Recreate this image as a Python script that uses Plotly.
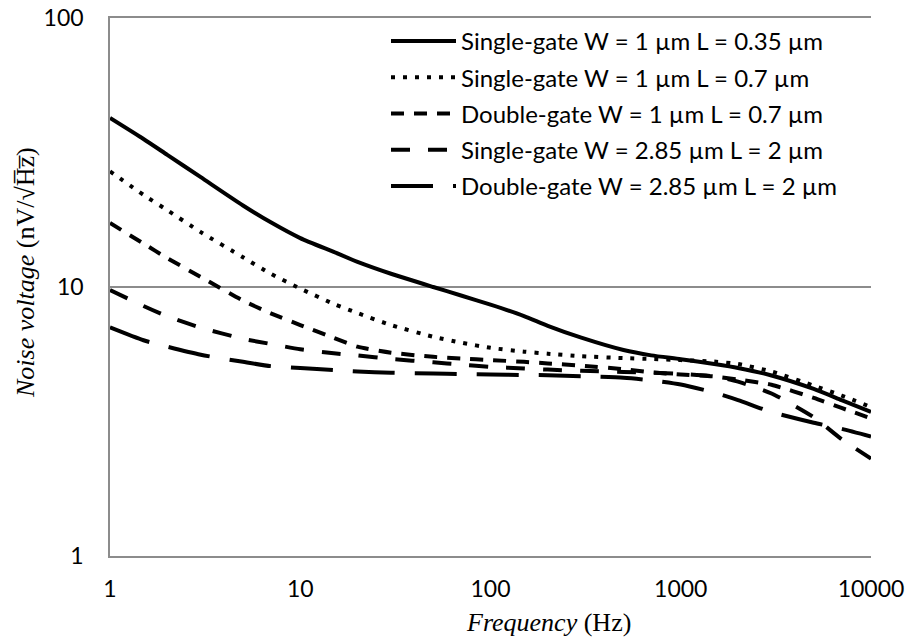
import plotly.graph_objects as go

freq = [1, 1.5, 2, 3, 5, 7, 10, 15, 20, 30, 50, 70, 100, 150, 200, 300, 500, 700,
        1000, 1500, 2000, 3000, 5000, 7000, 10000]

sg_w1_l035 = [42.5, 35.5, 31.0, 25.6, 20.1, 17.4, 15.2, 13.5, 12.4, 11.2, 10.0, 9.3, 8.6,
              7.8, 7.17, 6.48, 5.83, 5.57, 5.39, 5.17, 5.0, 4.69, 4.18, 3.8, 3.43]
sg_w1_l07 = [26.9, 22.0, 19.3, 16.0, 12.9, 11.2, 9.87, 8.65, 8.0, 7.22, 6.53, 6.21, 5.94,
             5.75, 5.65, 5.53, 5.44, 5.4, 5.35, 5.28, 5.17, 4.85, 4.3, 3.95, 3.58]
dg_w1_l07 = [17.3, 14.5, 12.8, 10.9, 8.9, 7.98, 7.22, 6.47, 6.0, 5.7, 5.5, 5.42, 5.35,
             5.27, 5.2, 5.1, 4.95, 4.82, 4.73, 4.65, 4.53, 4.33, 3.87, 3.55, 3.25]
sg_w285_l2 = [9.75, 8.5, 7.78, 7.06, 6.42, 6.14, 5.87, 5.67, 5.57, 5.4, 5.25, 5.15, 5.05,
              4.98, 4.93, 4.88, 4.83, 4.8, 4.75, 4.65, 4.45, 4.02, 3.28, 2.72, 2.3]
dg_w285_l2 = [7.08, 6.34, 6.0, 5.6, 5.27, 5.08, 5.0, 4.91, 4.85, 4.8, 4.77, 4.75, 4.73,
              4.71, 4.7, 4.66, 4.6, 4.5, 4.34, 4.05, 3.8, 3.43, 3.13, 2.97, 2.78]

names = ["Single-gate W = 1 µm L = 0.35 µm",
         "Single-gate W = 1 µm L = 0.7 µm",
         "Double-gate W = 1 µm L = 0.7 µm",
         "Single-gate W = 2.85 µm L = 2 µm",
         "Double-gate W = 2.85 µm L = 2 µm"]
series = [sg_w1_l035, sg_w1_l07, dg_w1_l07, sg_w285_l2, dg_w285_l2]
dashes = ["solid", "4px,8px", "13px,10px", "19px,18px", "42px,20px"]

x_ticks = [1, 10, 100, 1000, 10000]
x_ticktext = ["1", "10", "100", "1000", "10000"]
y_ticks = [1, 10, 100]
y_ticktext = ["1", "10", "100"]

fig = go.Figure()
for i, (nm, ys, ds) in enumerate(zip(names, series, dashes)):
    fig.add_trace(go.Scatter(
        x=freq, y=ys, name=nm, mode="lines", legendgroup=f"g{i}",
        line=dict(color="black", width=4, dash=ds, shape="spline", smoothing=0.6),
    ))

W, H = 907, 639
L, R, T, B = 110, 36, 18, 83
pw, ph = W - L - R, H - T - B

tickfont = dict(family="Lato, Carlito, sans-serif", size=23, color="black")
fig.update_layout(
    width=W, height=H,
    margin=dict(l=L, r=R, t=T, b=B, autoexpand=False),
    paper_bgcolor="white", plot_bgcolor="white",
    showlegend=True,
    legend=dict(
        x=(386 - L) / pw, y=1 - (19 - T) / ph, xanchor="left", yanchor="top",
        font=dict(family="Lato, Carlito, sans-serif", size=24, color="black"),
        bgcolor="rgba(0,0,0,0)", traceorder="grouped", tracegroupgap=2,
        itemwidth=65,
    ),
    xaxis=dict(
        type="log", range=[0, 4], tickvals=x_ticks, ticktext=x_ticktext,
        showgrid=False, showline=True, mirror=True, linecolor="#8c8c8c", linewidth=1.5,
        ticks="outside", ticklen=12, tickcolor="rgba(0,0,0,0)",
        tickfont=tickfont, zeroline=False, automargin=False,
    ),
    yaxis=dict(
        type="log", range=[0, 2], tickvals=y_ticks, ticktext=y_ticktext,
        showgrid=True, gridcolor="#8c8c8c", gridwidth=1.5,
        showline=True, linecolor="#8c8c8c", linewidth=1.5,
        ticks="outside", ticklen=20, tickcolor="rgba(0,0,0,0)",
        tickfont=tickfont, zeroline=False, automargin=False,
    ),
)

serif = "Liberation Serif, DejaVu Serif, serif"
fig.add_annotation(
    text="<i>Frequency</i> (Hz)", xref="paper", yref="paper",
    x=(548 - L) / pw, y=-(622 - (H - B)) / ph, xanchor="center", yanchor="middle",
    showarrow=False, font=dict(family=serif, size=26, color="black"),
)
fig.add_annotation(
    text="<i>Noise voltage</i> (nV/√H\u0305z\u0305)", xref="paper", yref="paper",
    x=-(L - 25) / pw, y=((H - B) - 273) / ph, xanchor="center", yanchor="middle",
    textangle=-90, showarrow=False, font=dict(family=serif, size=26, color="black"),
)

fig.write_html("out.html", config={"displayModeBar": False},
               post_script="document.body.style.margin='0';document.body.style.padding='0';")
